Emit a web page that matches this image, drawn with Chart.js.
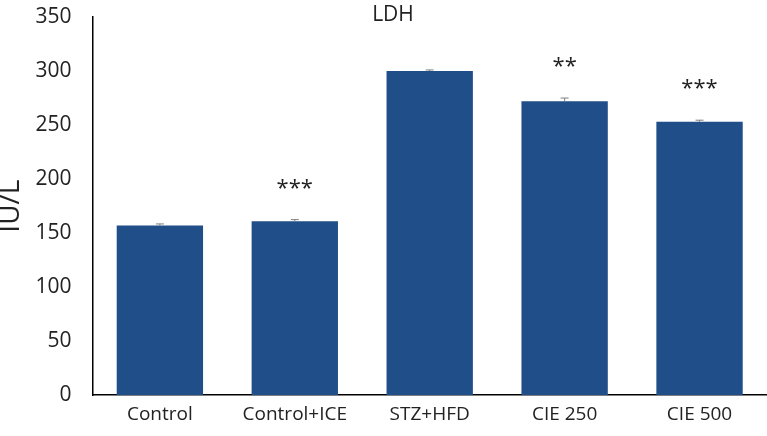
<!DOCTYPE html>
<html>
<head>
<meta charset="utf-8">
<script src="https://cdn.jsdelivr.net/npm/chart.js@4.4.1/dist/chart.umd.min.js"></script>
<style>
  html, body { margin: 0; padding: 0; background: #fff; }
  #wrap { width: 767px; height: 436px; }
</style>
</head>
<body>
<div id="wrap"><canvas id="ldhChart"></canvas></div>
<script>
  const groups = ['Control', 'Control+ICE', 'STZ+HFD', 'CIE 250', 'CIE 500'];
  const ldh = [157, 161, 300, 272, 253];
  const ldhErr = [1.5, 1.5, 1, 3, 1.5];
  const stars = ['', '***', '', '**', '***'];
  const yTicks = [0, 50, 100, 150, 200, 250, 300, 350];

  const font = '"Open Sans", "Liberation Sans", sans-serif';

  // error bars, significance marks and the title
  const extras = {
    id: 'extras',
    afterDatasetsDraw(chart) {
      const c = chart.ctx;
      const x = chart.scales.x, y = chart.scales.y;
      c.save();
      c.strokeStyle = '#7f7f7f';
      c.lineWidth = 1;
      ldh.forEach((v, i) => {
        const px = x.getPixelForValue(i);
        const top = y.getPixelForValue(v + ldhErr[i]);
        const base = y.getPixelForValue(v);
        c.beginPath();
        c.moveTo(px, base); c.lineTo(px, top);
        c.moveTo(px - 4, top); c.lineTo(px + 4, top);
        c.stroke();
      });
      c.fillStyle = '#222';
      c.textAlign = 'center';
      c.textBaseline = 'middle';
      c.font = '22px ' + font;
      stars.forEach((s, i) => {
        if (!s) return;
        const px = x.getPixelForValue(i);
        c.fillText(s, px, y.getPixelForValue(ldh[i] + ldhErr[i]) - 31);
      });
      c.font = '21px ' + font;
      c.textBaseline = 'alphabetic';
      c.fillText('LDH', 393, 21);
      c.restore();
    }
  };

  new Chart(document.getElementById('ldhChart'), {
    type: 'bar',
    data: {
      labels: groups,
      datasets: [{
        data: ldh,
        backgroundColor: '#1f4e89',
        borderWidth: 0,
        barPercentage: 0.64,
        categoryPercentage: 1
      }]
    },
    options: {
      responsive: true,
      maintainAspectRatio: false,
      animation: false,
      layout: { padding: { top: 17, right: 0, bottom: 10, left: 0 } },
      plugins: { legend: { display: false }, tooltip: { enabled: false } },
      scales: {
        x: {
          grid: { display: false },
          border: { display: true, color: '#000', width: 1.5 },
          ticks: { color: '#222', font: { family: font, size: 19 }, padding: 0 }
        },
        y: {
          min: 0,
          max: 350,
          afterBuildTicks(axis) { axis.ticks = yTicks.map(v => ({ value: v })); },
          afterFit(axis) { axis.paddingTop = 0; axis.paddingBottom = 0; },
          grid: { display: false },
          border: { display: true, color: '#000', width: 1.5 },
          ticks: { color: '#222', font: { family: font, size: 21 }, padding: 13 },
          title: {
            display: true, text: 'IU/L', color: '#222',
            font: { family: font, size: 28, lineHeight: 0.8 },
            padding: { top: 0, bottom: 0 }
          }
        }
      }
    },
    plugins: [extras]
  });
</script>
</body>
</html>
